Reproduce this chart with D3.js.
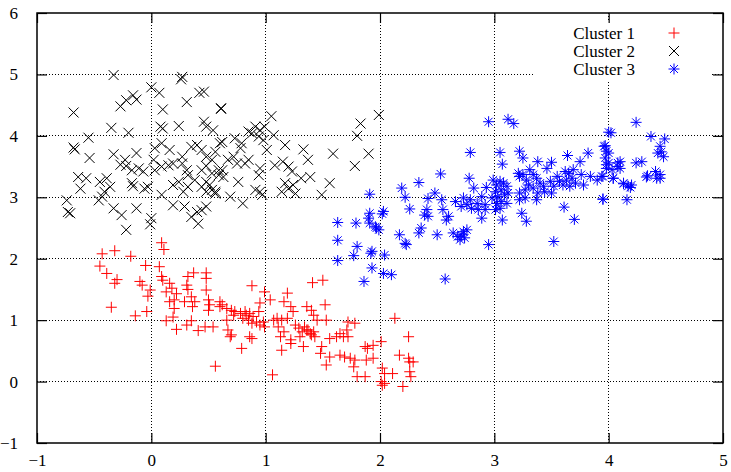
<!DOCTYPE html>
<html>
<head>
<meta charset="utf-8">
<script src="https://cdn.jsdelivr.net/npm/d3@7"></script>
<style>
  body { margin: 0; background: #fff; }
  text { font-family: "Liberation Serif", "DejaVu Serif", serif; }
</style>
</head>
<body>
<div id="chart"></div>
<script>
const xTicks = [-1, 0, 1, 2, 3, 4, 5]
const yTicks = [-1, 0, 1, 2, 3, 4, 5, 6]
const seriesNames = ['Cluster 1', 'Cluster 2', 'Cluster 3']

// red plus
const cluster1 = [
  [-0.43, 2.08], [-0.32, 2.13], [-0.18, 2.04], [0.09, 2.26], [0.11, 2.15], [-0.45, 1.88], [-0.39, 1.76],
  [-0.30, 1.66], [-0.32, 1.60], [-0.05, 1.89], [0.07, 1.87], [0.09, 1.71], [0.10, 1.65], [-0.10, 1.63],
  [-0.08, 1.57], [-0.01, 1.49], [-0.03, 1.39], [-0.35, 1.21], [-0.14, 1.07], [-0.04, 1.14], [0.16, 1.60],
  [0.18, 1.52], [0.13, 1.46], [0.22, 1.43], [0.20, 1.33], [0.16, 1.30], [0.32, 1.71], [0.37, 1.77],
  [0.48, 1.77], [0.48, 1.68], [0.31, 1.57], [0.32, 1.50], [0.48, 1.49], [0.35, 1.38], [0.38, 1.30],
  [0.36, 1.22], [0.29, 1.30], [0.50, 1.33], [0.51, 1.25], [0.50, 1.16], [0.20, 1.19], [0.13, 0.99],
  [0.19, 1.05], [0.22, 0.85], [0.31, 0.92], [0.35, 0.99], [0.41, 0.83], [0.47, 0.89], [0.54, 0.89],
  [0.60, 1.30], [0.62, 1.25], [0.66, 1.19], [0.60, 1.22], [0.70, 1.16], [0.73, 1.14], [0.72, 1.08],
  [0.78, 1.11], [0.82, 1.14], [0.83, 1.08], [0.86, 1.11], [0.89, 1.06], [0.80, 1.03], [0.85, 1.00],
  [0.88, 0.95], [0.92, 0.97], [0.95, 0.92], [0.98, 0.97], [0.99, 0.89], [0.88, 1.56], [0.95, 1.28],
  [0.99, 1.46], [1.04, 1.33], [0.94, 1.14], [0.66, 1.00], [0.67, 0.84], [0.69, 0.73], [0.70, 0.76],
  [0.79, 0.54], [0.86, 0.73], [0.88, 0.70], [0.56, 0.25], [1.06, 0.11], [1.07, 1.00], [1.10, 1.03],
  [1.14, 1.00], [1.19, 1.03], [1.11, 0.89], [1.16, 0.81], [1.13, 0.73], [1.19, 1.44], [1.16, 1.30],
  [1.22, 1.22], [1.24, 1.14], [1.22, 0.62], [1.22, 0.68], [1.14, 0.51], [1.26, 0.92], [1.29, 0.87],
  [1.32, 0.81], [1.34, 0.89], [1.36, 0.84], [1.30, 0.73], [1.33, 0.57], [1.36, 1.22], [1.40, 1.16],
  [1.37, 0.84], [1.39, 0.78], [1.42, 0.81], [1.43, 0.73], [1.40, 0.76], [1.42, 1.08], [1.45, 1.00],
  [1.41, 1.61], [1.50, 1.65], [1.52, 1.25], [1.53, 1.00], [1.49, 0.57], [1.48, 0.46], [1.53, 0.27],
  [1.56, 0.70], [1.62, 0.73], [1.65, 0.78], [1.68, 0.73], [1.71, 0.84], [1.72, 0.73], [1.56, 0.40],
  [1.65, 0.43], [1.69, 0.40], [1.74, 0.38], [1.78, 0.35], [1.77, 0.24], [1.80, 0.08], [1.72, 0.97],
  [1.78, 0.95], [1.87, 0.57], [1.89, 0.54], [1.94, 0.59], [1.88, 0.35], [1.94, 0.38], [1.87, 0.08],
  [2.01, 0.65], [2.02, 0.22], [2.04, 0.13], [2.11, 0.13], [2.01, 0.00], [2.02, -0.06], [2.04, -0.03],
  [2.13, 1.03], [2.25, 0.73], [2.17, 0.43], [2.25, 0.38], [2.26, 0.32], [2.29, 0.32], [2.26, 0.16],
  [2.27, 0.08], [2.20, -0.08]
]

// black x
const cluster2 = [
  [-0.33, 4.99], [0.26, 4.92], [0.27, 4.96], [0.00, 4.79], [0.07, 4.70], [0.42, 4.70], [0.46, 4.72],
  [-0.16, 4.66], [-0.22, 4.58], [-0.13, 4.59], [-0.27, 4.48], [-0.68, 4.38], [0.31, 4.55], [0.10, 4.43],
  [0.61, 4.44], [-0.35, 4.13], [-0.20, 4.05], [0.08, 4.15], [0.10, 4.12], [0.24, 4.16], [0.46, 4.23],
  [0.48, 4.15], [0.54, 4.09], [-0.55, 3.97], [-0.68, 3.81], [-0.67, 3.78], [-0.54, 3.64], [-0.33, 3.70],
  [-0.13, 3.72], [-0.23, 3.61], [-0.27, 3.53], [-0.22, 3.51], [0.03, 3.80], [0.09, 3.88], [0.16, 3.77],
  [0.27, 3.66], [0.35, 3.82], [0.40, 3.85], [0.44, 3.77], [0.60, 3.88], [0.48, 3.66], [0.53, 3.61],
  [-0.17, 3.44], [-0.11, 3.47], [-0.07, 3.42], [0.02, 3.61], [0.03, 3.44], [0.09, 3.50], [0.15, 3.52],
  [0.19, 3.55], [0.27, 3.55], [0.31, 3.44], [0.32, 3.36], [0.44, 3.44], [0.48, 3.51], [0.53, 3.39],
  [0.59, 3.44], [-0.64, 3.33], [-0.57, 3.31], [-0.62, 3.14], [-0.45, 3.25], [-0.39, 3.31], [-0.36, 3.17],
  [-0.41, 3.09], [-0.43, 3.01], [-0.46, 2.95], [-0.17, 3.23], [-0.16, 3.18], [-0.06, 3.14], [-0.03, 3.17],
  [0.09, 3.04], [0.19, 3.20], [0.24, 3.25], [0.28, 3.09], [0.32, 3.17], [0.38, 3.28], [0.44, 3.17],
  [0.48, 3.09], [0.53, 3.12], [0.56, 3.06], [0.48, 3.25], [0.51, 3.20], [-0.74, 2.95], [-0.73, 2.76],
  [-0.71, 2.74], [-0.33, 2.82], [-0.26, 2.71], [-0.13, 2.82], [-0.22, 2.47], [0.00, 2.66], [-0.01, 2.56],
  [0.19, 2.87], [0.29, 2.85], [0.35, 2.68], [0.40, 2.76], [0.44, 2.79], [0.48, 2.85], [0.41, 2.57],
  [0.61, 4.45], [1.05, 4.32], [1.99, 4.34], [1.83, 4.20], [1.80, 4.00], [0.91, 4.15], [0.95, 4.09],
  [0.99, 4.15], [0.88, 4.04], [0.85, 4.07], [0.94, 3.99], [0.98, 3.93], [1.07, 4.01], [0.73, 3.96],
  [0.62, 3.90], [0.79, 3.88], [0.78, 3.80], [0.56, 3.74], [1.17, 3.85], [1.01, 3.77], [1.33, 3.78],
  [1.37, 3.61], [1.59, 3.71], [1.90, 3.71], [1.78, 3.51], [0.67, 3.61], [0.72, 3.66], [0.75, 3.55],
  [0.82, 3.55], [0.85, 3.61], [0.62, 3.44], [0.63, 3.33], [0.59, 3.36], [0.95, 3.47], [0.94, 3.36],
  [1.08, 3.52], [1.15, 3.58], [1.20, 3.50], [1.23, 3.42], [0.76, 3.25], [1.17, 3.23], [1.20, 3.14],
  [1.24, 3.20], [1.14, 3.09], [1.31, 3.31], [1.39, 3.33], [1.26, 3.06], [1.56, 3.23], [1.49, 3.04],
  [0.91, 3.12], [0.95, 3.09], [0.97, 3.04], [0.69, 3.01], [0.80, 2.90], [0.56, 3.09]
]

// blue star
const cluster3 = [
  [2.95, 4.23], [3.12, 4.27], [3.17, 4.20], [4.24, 4.22], [4.02, 4.05], [4.37, 3.99], [4.49, 3.95],
  [4.45, 3.83], [4.46, 3.74], [4.48, 3.66], [4.43, 3.72], [2.79, 3.73], [3.05, 3.73], [3.22, 3.75],
  [3.25, 3.64], [3.07, 3.54], [3.38, 3.58], [3.50, 3.57], [3.64, 3.68], [3.82, 3.72], [3.75, 3.58],
  [3.97, 3.84], [3.98, 3.75], [3.97, 3.64], [4.00, 3.56], [3.98, 3.47], [4.08, 3.56], [4.10, 3.47],
  [4.24, 3.56], [4.29, 3.58], [4.34, 3.35], [4.41, 3.42], [4.45, 3.37], [4.45, 3.31], [2.53, 3.38],
  [2.78, 3.31], [2.34, 3.24], [2.19, 3.15], [1.91, 3.05], [2.22, 3.00], [2.82, 3.15], [2.93, 3.16],
  [2.48, 3.07], [2.42, 2.98], [2.54, 2.96], [2.26, 2.81], [2.41, 2.80], [2.42, 2.69], [2.39, 2.71],
  [2.55, 2.80], [2.60, 2.69], [2.58, 2.63], [2.66, 2.93], [2.71, 2.85], [2.76, 2.88], [2.80, 2.82],
  [2.85, 2.90], [2.86, 2.80], [2.89, 3.01], [2.92, 2.88], [2.73, 2.99], [2.79, 2.96], [2.89, 2.66],
  [2.92, 2.80], [2.99, 3.28], [3.02, 3.20], [3.05, 3.26], [3.08, 3.23], [3.11, 3.18], [3.06, 3.12],
  [3.01, 3.09], [3.03, 3.01], [3.09, 3.04], [3.12, 3.07], [2.98, 2.99], [3.02, 2.90], [3.06, 2.93],
  [3.11, 2.90], [3.05, 2.82], [3.01, 2.80], [3.07, 2.63], [3.21, 3.39], [3.22, 3.34], [3.25, 3.37],
  [3.28, 3.28], [3.31, 3.45], [3.34, 3.37], [3.37, 3.31], [3.30, 3.20], [3.27, 3.12], [3.22, 3.07],
  [3.34, 3.15], [3.40, 3.23], [3.43, 3.18], [3.49, 3.26], [3.52, 3.18], [3.38, 3.07], [3.44, 3.09],
  [3.50, 3.07], [3.37, 2.96], [3.27, 2.99], [3.22, 2.96], [3.46, 3.47], [3.55, 3.34], [3.57, 3.26],
  [3.60, 3.20], [3.63, 3.28], [3.65, 3.39], [3.68, 3.31], [3.71, 3.23], [3.66, 3.18], [3.62, 3.42],
  [3.69, 3.45], [3.76, 3.37], [3.78, 3.20], [3.84, 3.34], [3.90, 3.28], [3.94, 3.34], [4.04, 3.31],
  [4.03, 3.45], [4.13, 3.23], [4.17, 3.18], [4.20, 3.20], [3.95, 2.97], [4.16, 2.96], [3.24, 2.74],
  [3.28, 2.61], [3.61, 2.84], [3.70, 2.64], [3.52, 2.28], [2.95, 2.23], [2.64, 2.42], [2.68, 2.36],
  [2.71, 2.39], [2.73, 2.44], [2.76, 2.47], [2.70, 2.31], [2.74, 2.34], [2.50, 2.39], [2.34, 2.42],
  [2.36, 2.50], [2.17, 2.39], [2.22, 2.25], [2.23, 2.23], [2.02, 2.73], [2.03, 2.77], [1.91, 2.74],
  [1.90, 2.66], [1.91, 2.58], [1.96, 2.52], [1.99, 2.47], [1.97, 2.50], [1.79, 2.58], [1.63, 2.59],
  [1.63, 2.30], [1.80, 2.20], [1.77, 2.05], [1.93, 2.12], [1.92, 2.09], [2.04, 2.06], [1.63, 1.97],
  [1.93, 1.85], [1.86, 1.63], [2.03, 1.76], [2.10, 1.74], [2.57, 1.67], [4.00, 4.06], [3.96, 3.83],
  [4.00, 3.72], [3.98, 3.53], [3.95, 3.34], [4.04, 3.31], [3.95, 2.97], [4.10, 3.58], [4.08, 3.50],
  [4.33, 3.33], [4.42, 3.31], [4.13, 3.22], [4.19, 3.16]
]

const W = 731, H = 472
const margin = { top: 13, left: 37, right: 8, bottom: 29 }
const width = W - margin.left - margin.right
const height = H - margin.top - margin.bottom

const svg = d3.select('#chart')
  .append('svg')
  .attr('width', W)
  .attr('height', H)

const g = svg.append('g')
  .attr('transform', `translate(${margin.left},${margin.top})`)

const x = d3.scaleLinear().domain([-1, 5]).range([0, width])
const y = d3.scaleLinear().domain([-1, 6]).range([height, 0])

// dotted grid
g.selectAll('.vgrid')
  .data(xTicks.slice(1, -1))
  .enter()
  .append('line')
  .attr('x1', d => x(d)).attr('x2', d => x(d))
  .attr('y1', 0).attr('y2', height)
  .attr('stroke', '#000')
  .attr('stroke-width', 1)
  .attr('stroke-dasharray', '1,2')
  .attr('shape-rendering', 'crispEdges')

g.selectAll('.hgrid')
  .data(yTicks.slice(1, -1))
  .enter()
  .append('line')
  .attr('x1', 0).attr('x2', width)
  .attr('y1', d => y(d)).attr('y2', d => y(d))
  .attr('stroke', '#000')
  .attr('stroke-width', 1)
  .attr('stroke-dasharray', '1,2')
  .attr('shape-rendering', 'crispEdges')

// key box hides the grid behind it
g.append('rect')
  .attr('x', 496).attr('y', 8)
  .attr('width', 179).attr('height', 59)
  .attr('fill', '#fff')

// markers
const plus = s => `M${-s},0H${s}M0,${-s}V${s}`
const cross = s => `M${-s},${-s}L${s},${s}M${-s},${s}L${s},${-s}`
const star = s => plus(s) + cross(s * 0.72)

const series = [
  { data: cluster1, color: '#ff0000', path: plus(5.5) },
  { data: cluster2, color: '#000000', path: cross(5) },
  { data: cluster3, color: '#0000ff', path: star(5.5) }
]

series.forEach(s => {
  g.append('g')
    .selectAll('path')
    .data(s.data)
    .enter()
    .append('path')
    .attr('d', s.path)
    .attr('transform', d => `translate(${x(d[0])},${y(d[1])})`)
    .attr('fill', 'none')
    .attr('stroke', s.color)
    .attr('stroke-width', 1)
})

// axes, ticks pointing inwards on all four sides
const axisStyle = sel => {
  sel.select('.domain').remove()
  sel.selectAll('.tick line').attr('stroke', '#000').attr('stroke-width', 1.2)
  sel.selectAll('text')
    .attr('fill', '#000')
    .style('font-size', '17px')
    .style('font-family', '"Liberation Serif", "DejaVu Serif", serif')
}

g.append('g')
  .attr('transform', `translate(0,${height})`)
  .call(d3.axisBottom(x).tickValues(xTicks).tickSize(-10).tickPadding(11).tickFormat(d3.format('d')))
  .call(axisStyle)

g.append('g')
  .call(d3.axisTop(x).tickValues(xTicks).tickSize(-10).tickFormat(''))
  .call(axisStyle)

g.append('g')
  .call(d3.axisLeft(y).tickValues(yTicks).tickSize(-10).tickPadding(19).tickFormat(d3.format('d')))
  .call(axisStyle)

g.append('g')
  .attr('transform', `translate(${width},0)`)
  .call(d3.axisRight(y).tickValues(yTicks).tickSize(-10).tickFormat(''))
  .call(axisStyle)

// border
g.append('rect')
  .attr('width', width)
  .attr('height', height)
  .attr('fill', 'none')
  .attr('stroke', '#000')
  .attr('stroke-width', 1.5)

// key
const key = g.append('g')
series.forEach((s, i) => {
  key.append('text')
    .attr('x', 598)
    .attr('y', 26 + i * 18)
    .attr('text-anchor', 'end')
    .style('font-size', '17px')
    .text(seriesNames[i])
  key.append('path')
    .attr('d', s.path)
    .attr('transform', `translate(637,${20 + i * 18})`)
    .attr('fill', 'none')
    .attr('stroke', s.color)
    .attr('stroke-width', 1)
})
</script>
</body>
</html>
